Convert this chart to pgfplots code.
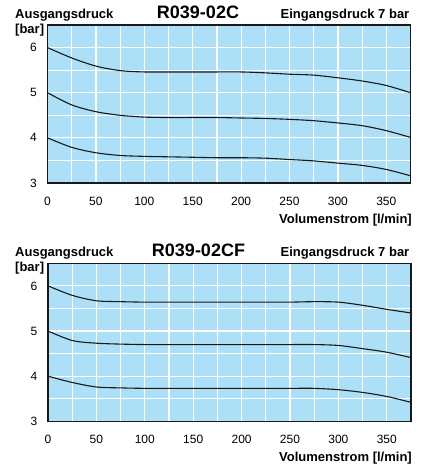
\documentclass[border=0pt]{standalone}
\usepackage{fontspec}
\setmainfont{Liberation Sans}
\usepackage{pgfplots}
\usepackage{pgfplotstable}
\pgfplotsset{compat=1.18}

\definecolor{chartblue}{RGB}{173,223,247}

% Ausgangsdruck [bar] over Volumenstrom [l/min], three set points each
\pgfplotstableread{
x    a     b     c
0    6.00  5.00  4.00
25   5.77  4.73  3.79
50   5.59  4.58  3.67
75   5.49  4.50  3.61
100  5.46  4.46  3.59
125  5.46  4.45  3.58
150  5.46  4.45  3.57
175  5.46  4.45  3.56
200  5.46  4.44  3.56
225  5.44  4.43  3.55
250  5.41  4.41  3.52
275  5.39  4.38  3.49
300  5.33  4.33  3.44
325  5.26  4.27  3.39
350  5.16  4.16  3.30
375  5.00  4.01  3.16
}\tableC

\pgfplotstableread{
x    a     b     c
0    6.00  5.00  4.00
25   5.79  4.79  3.86
50   5.67  4.73  3.76
75   5.65  4.71  3.74
100  5.64  4.70  3.73
125  5.64  4.70  3.73
150  5.64  4.70  3.73
175  5.64  4.70  3.73
200  5.64  4.70  3.73
225  5.64  4.70  3.73
250  5.64  4.70  3.73
275  5.65  4.70  3.73
300  5.64  4.68  3.70
325  5.57  4.61  3.64
350  5.48  4.53  3.55
375  5.40  4.41  3.42
}\tableCF

\pgfplotsset{druck/.style={
  scale only axis,
  width=363pt, height=158pt,
  xmin=0, xmax=375, ymin=3, ymax=6.5,
  xtick={0,50,...,350}, minor xtick={25,75,...,375},
  ytick={3,4,5,6}, minor ytick={3.5,4.5,5.5},
  grid=both,
  major grid style={white, line width=1.2pt},
  minor grid style={white, line width=1.2pt},
  axis background/.style={fill=chartblue},
  axis line style={line width=1.4pt, black!90},
  major tick length=0pt, minor tick length=0pt,
  /pgf/number format/assume math mode=true,
  tick label style={font=\fontsize{12}{13}\selectfont, inner sep=0pt},
  xticklabel style={anchor=north, yshift=-14pt},
  yticklabel style={anchor=east, xshift=-10.5pt},
  every axis plot post/.append style={black!90, line width=1.1pt, smooth, mark=none},
}}

\newcommand\bfl{\fontsize{13}{14}\bfseries\selectfont}
\newcommand\tfl{\fontsize{18}{20}\bfseries\selectfont}

\begin{document}
\begin{tikzpicture}
\path[use as bounding box] (0,0) rectangle (422pt,-472pt);

\begin{axis}[druck, at={(47.5pt,-25pt)}, anchor=north west]
\addplot table[x=x, y=a] {\tableC};
\addplot table[x=x, y=b] {\tableC};
\addplot table[x=x, y=c] {\tableC};
\end{axis}

\begin{axis}[druck, at={(48pt,-263.3pt)}, anchor=north west]
\addplot table[x=x, y=a] {\tableCF};
\addplot table[x=x, y=b] {\tableCF};
\addplot table[x=x, y=c] {\tableCF};
\end{axis}

\begin{scope}[every node/.style={inner sep=0pt}]
\node[anchor=base west, font=\bfl] at (15pt,-18.3pt) {Ausgangsdruck};
\node[anchor=base west, font=\bfl] at (15pt,-33.3pt) {[bar]};
\node[anchor=base, font=\tfl] at (198pt,-18.3pt) {R039-02C};
\node[anchor=base east, font=\bfl] at (409.5pt,-18.3pt) {Eingangsdruck 7 bar};
\node[anchor=base east, font=\bfl] at (412pt,-223.3pt) {Volumenstrom [l/min]};

\node[anchor=base west, font=\bfl] at (15pt,-256.6pt) {Ausgangsdruck};
\node[anchor=base west, font=\bfl] at (15pt,-271.6pt) {[bar]};
\node[anchor=base, font=\tfl] at (198.5pt,-256.6pt) {R039-02CF};
\node[anchor=base east, font=\bfl] at (409.5pt,-256.6pt) {Eingangsdruck 7 bar};
\node[anchor=base east, font=\bfl] at (412pt,-461.6pt) {Volumenstrom [l/min]};
\end{scope}
\end{tikzpicture}
\end{document}
